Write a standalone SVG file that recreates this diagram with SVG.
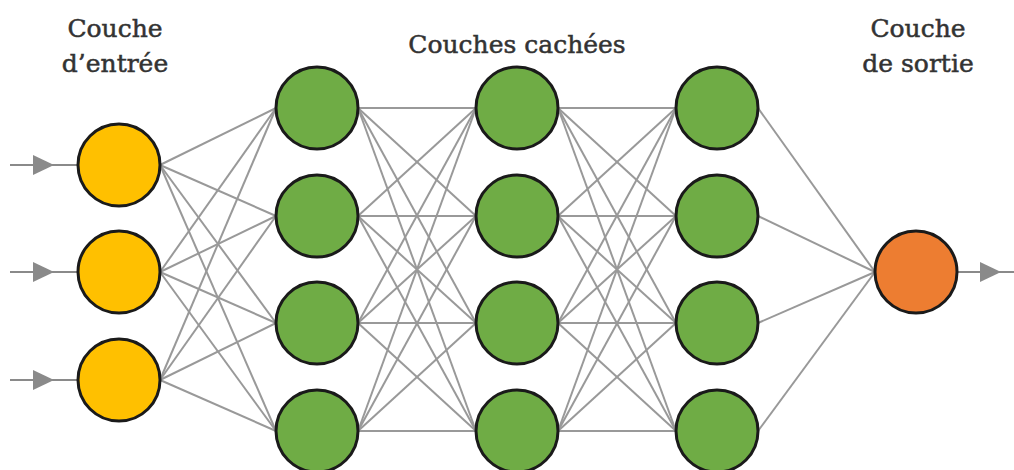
<svg xmlns="http://www.w3.org/2000/svg" width="1014" height="470" viewBox="0 0 1014 470">
<style>
.lbl{font-family:"DejaVu Serif","Liberation Serif",serif;font-size:25px;fill:#333;stroke:#333;stroke-width:0.5;text-anchor:middle}
.c{stroke:#999;stroke-width:2;fill:none}
.ar{stroke:#8a8a8a;stroke-width:2;fill:none}
.n{stroke:#1a1a1a;stroke-width:3}
.in{fill:#FFC000}
.hd{fill:#6FAC45}
.out{fill:#ED7D31}
</style>
<defs>
<polygon id="tri" points="0,-10 21,0 0,10" fill="#8a8a8a"/>
</defs>
<rect width="1014" height="470" fill="#fff"/>
<g id="labels">
<text class="lbl" x="115" y="37">Couche</text>
<text class="lbl" x="115" y="72">d’entrée</text>
<text class="lbl" x="517" y="53">Couches cachées</text>
<text class="lbl" x="918" y="37">Couche</text>
<text class="lbl" x="918" y="72">de sortie</text>
</g>
<g id="connectors">
<line class="ar" x1="10" y1="165" x2="78" y2="165"/><use href="#tri" x="33" y="165"/>
<line class="ar" x1="10" y1="272" x2="78" y2="272"/><use href="#tri" x="33" y="272"/>
<line class="ar" x1="10" y1="380" x2="78" y2="380"/><use href="#tri" x="33" y="380"/>
<line class="c" x1="160" y1="165" x2="276" y2="108"/><line class="c" x1="160" y1="165" x2="276" y2="216"/><line class="c" x1="160" y1="165" x2="276" y2="323"/><line class="c" x1="160" y1="165" x2="276" y2="431"/>
<line class="c" x1="160" y1="272" x2="276" y2="108"/><line class="c" x1="160" y1="272" x2="276" y2="216"/><line class="c" x1="160" y1="272" x2="276" y2="323"/><line class="c" x1="160" y1="272" x2="276" y2="431"/>
<line class="c" x1="160" y1="380" x2="276" y2="108"/><line class="c" x1="160" y1="380" x2="276" y2="216"/><line class="c" x1="160" y1="380" x2="276" y2="323"/><line class="c" x1="160" y1="380" x2="276" y2="431"/>
<line class="c" x1="358" y1="108" x2="476" y2="108"/><line class="c" x1="358" y1="108" x2="476" y2="216"/><line class="c" x1="358" y1="108" x2="476" y2="323"/><line class="c" x1="358" y1="108" x2="476" y2="431"/>
<line class="c" x1="358" y1="216" x2="476" y2="108"/><line class="c" x1="358" y1="216" x2="476" y2="216"/><line class="c" x1="358" y1="216" x2="476" y2="323"/><line class="c" x1="358" y1="216" x2="476" y2="431"/>
<line class="c" x1="358" y1="323" x2="476" y2="108"/><line class="c" x1="358" y1="323" x2="476" y2="216"/><line class="c" x1="358" y1="323" x2="476" y2="323"/><line class="c" x1="358" y1="323" x2="476" y2="431"/>
<line class="c" x1="358" y1="431" x2="476" y2="108"/><line class="c" x1="358" y1="431" x2="476" y2="216"/><line class="c" x1="358" y1="431" x2="476" y2="323"/><line class="c" x1="358" y1="431" x2="476" y2="431"/>
<line class="c" x1="558" y1="108" x2="676" y2="108"/><line class="c" x1="558" y1="108" x2="676" y2="216"/><line class="c" x1="558" y1="108" x2="676" y2="323"/><line class="c" x1="558" y1="108" x2="676" y2="431"/>
<line class="c" x1="558" y1="216" x2="676" y2="108"/><line class="c" x1="558" y1="216" x2="676" y2="216"/><line class="c" x1="558" y1="216" x2="676" y2="323"/><line class="c" x1="558" y1="216" x2="676" y2="431"/>
<line class="c" x1="558" y1="323" x2="676" y2="108"/><line class="c" x1="558" y1="323" x2="676" y2="216"/><line class="c" x1="558" y1="323" x2="676" y2="323"/><line class="c" x1="558" y1="323" x2="676" y2="431"/>
<line class="c" x1="558" y1="431" x2="676" y2="108"/><line class="c" x1="558" y1="431" x2="676" y2="216"/><line class="c" x1="558" y1="431" x2="676" y2="323"/><line class="c" x1="558" y1="431" x2="676" y2="431"/>
<line class="c" x1="758" y1="108" x2="875" y2="272"/><line class="c" x1="758" y1="216" x2="875" y2="272"/><line class="c" x1="758" y1="323" x2="875" y2="272"/><line class="c" x1="758" y1="431" x2="875" y2="272"/>
<line class="ar" x1="957" y1="272" x2="1014" y2="272"/><use href="#tri" x="980" y="272"/>
</g>
<g id="input-1"><circle class="n in" cx="119" cy="165" r="41"/></g>
<g id="input-2"><circle class="n in" cx="119" cy="272" r="41"/></g>
<g id="input-3"><circle class="n in" cx="119" cy="380" r="41"/></g>
<g id="h1-1"><circle class="n hd" cx="317" cy="108" r="41"/></g>
<g id="h1-2"><circle class="n hd" cx="317" cy="216" r="41"/></g>
<g id="h1-3"><circle class="n hd" cx="317" cy="323" r="41"/></g>
<g id="h1-4"><circle class="n hd" cx="317" cy="431" r="41"/></g>
<g id="h2-1"><circle class="n hd" cx="517" cy="108" r="41"/></g>
<g id="h2-2"><circle class="n hd" cx="517" cy="216" r="41"/></g>
<g id="h2-3"><circle class="n hd" cx="517" cy="323" r="41"/></g>
<g id="h2-4"><circle class="n hd" cx="517" cy="431" r="41"/></g>
<g id="h3-1"><circle class="n hd" cx="717" cy="108" r="41"/></g>
<g id="h3-2"><circle class="n hd" cx="717" cy="216" r="41"/></g>
<g id="h3-3"><circle class="n hd" cx="717" cy="323" r="41"/></g>
<g id="h3-4"><circle class="n hd" cx="717" cy="431" r="41"/></g>
<g id="output"><circle class="n out" cx="916" cy="272" r="41"/></g>
</svg>
